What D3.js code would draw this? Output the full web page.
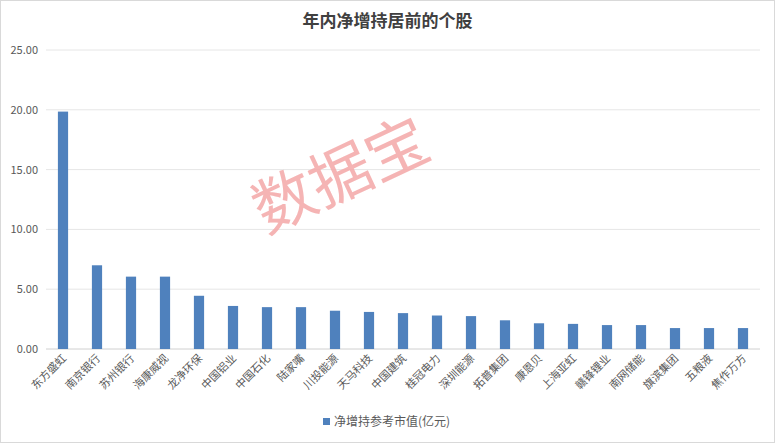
<!DOCTYPE html>
<html><head><meta charset="utf-8">
<script src="https://cdn.jsdelivr.net/npm/d3@7"></script>
<style>body{margin:0;background:#fff}svg{display:block}</style>
</head><body>
<script>
const categories = ['东方盛虹','南京银行','苏州银行','海康威视','龙净环保','中国铝业','中国石化','陆家嘴','川投能源','天马科技','中国建筑','桂冠电力','深圳能源','拓普集团','康恩贝','上海亚虹','赣锋锂业','南网储能','旗滨集团','五粮液','焦作万方'];
const values = [19.85,7.0,6.05,6.05,4.45,3.6,3.5,3.5,3.2,3.1,3.0,2.8,2.75,2.4,2.15,2.1,2.0,2.0,1.75,1.75,1.75];
const yTicks = [0,5,10,15,20,25];
const seriesName = '净增持参考市值(亿元)';

const W = 775, H = 443, font = '"Noto Sans CJK SC", sans-serif';
const svg = d3.select('body').append('svg').attr('width', W).attr('height', H);
svg.append('rect').attr('x',0.5).attr('y',0.5).attr('width',W-1).attr('height',H-1)
    .attr('fill','#fff').attr('stroke','#d9d9d9');

const x = d3.scaleBand().domain(categories).range([46, 760]).paddingInner(0.7).paddingOuter(0.35);
const y = d3.scaleLinear().domain([0,25]).range([349, 50]);

svg.append('text').attr('x', W/2).attr('y', 27).attr('text-anchor','middle')
    .style('font-family', font).style('font-size','17px').style('font-weight','bold')
    .attr('fill','#404040').text('年内净增持居前的个股');

svg.append('g').selectAll('line').data(yTicks.slice(1)).join('line')
    .attr('x1',46).attr('x2',760).attr('y1',d=>y(d)).attr('y2',d=>y(d))
    .attr('stroke','#e6e6e6');
svg.append('line').attr('x1',46).attr('x2',760).attr('y1',y(0)).attr('y2',y(0)).attr('stroke','#d0d0d0');

svg.append('g').selectAll('text').data(yTicks).join('text')
    .attr('x',38).attr('y',d=>y(d)+4).attr('text-anchor','end')
    .style('font-family', font).style('font-size','11px').attr('fill','#595959')
    .text(d=>d.toFixed(2));

svg.append('text').attr('transform','translate(350,195) rotate(-25)').attr('text-anchor','middle')
    .style('font-family', font).style('font-size','62px').attr('fill','#f4a8a8').attr('opacity',0.85)
    .text('数据宝');

svg.append('g').selectAll('rect').data(values).join('rect')
    .attr('x',(d,i)=>x(categories[i])).attr('width',x.bandwidth())
    .attr('y',d=>y(d)).attr('height',d=>y(0)-y(d)).attr('fill','#4f81bd');

svg.append('g').selectAll('text').data(categories).join('text')
    .attr('transform',d=>`translate(${x(d)+x.bandwidth()/2+4},${y(0)+10}) rotate(-45)`)
    .attr('text-anchor','end')
    .style('font-family', font).style('font-size','11px').attr('fill','#595959')
    .text(d=>d);

svg.append('rect').attr('x',323).attr('y',418).attr('width',7).attr('height',7).attr('fill','#4f81bd');
svg.append('text').attr('x',334).attr('y',426).style('font-family', font).style('font-size','12px')
    .attr('fill','#595959').text(seriesName);
</script>
</body></html>
